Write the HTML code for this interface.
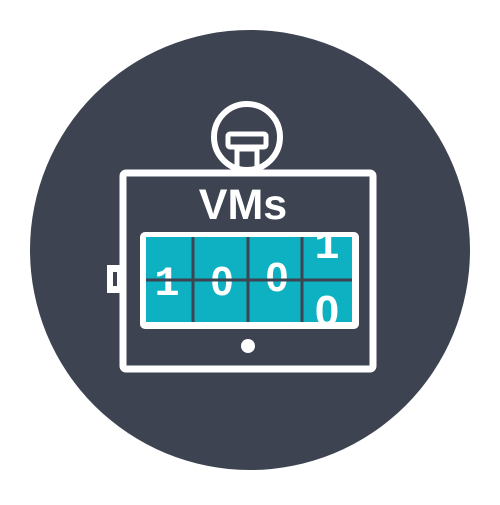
<!DOCTYPE html>
<html><head><style>html,body{margin:0;padding:0;background:#fff;}</style></head>
<body>
<svg width="500" height="500" viewBox="0 0 500 500" xmlns="http://www.w3.org/2000/svg">
<defs><clipPath id="c"><rect x="146" y="237" width="206" height="85"/></clipPath></defs>
<circle cx="250" cy="250" r="220" fill="#3d4350"/>
<circle cx="247" cy="137" r="33" fill="none" stroke="#fff" stroke-width="6"/>
<rect x="228" y="134" width="38" height="13" fill="none" stroke="#fff" stroke-width="5" rx="2"/>
<rect x="237" y="149" width="20" height="27" fill="none" stroke="#fff" stroke-width="5"/>
<rect x="107" y="265" width="15" height="28" fill="#fff"/>
<rect x="113" y="272" width="4" height="14" fill="#3d4350"/>
<rect x="123" y="173" width="250" height="196" rx="3" fill="#3d4350" stroke="#fff" stroke-width="7"/>
<text x="243" y="219" text-anchor="middle" font-family="Liberation Sans, sans-serif" font-weight="bold" font-size="43" fill="#fff">VMs</text>
<rect x="140" y="232" width="219" height="97" rx="5" fill="#fff"/>
<rect x="146" y="237" width="206" height="85" fill="#0eb1c1"/>
<g clip-path="url(#c)" font-weight="bold" fill="#fff" text-anchor="middle">
<text x="167" y="295" font-family="Liberation Mono, monospace" font-size="42">1</text>
<text x="327" y="258" font-family="Liberation Mono, monospace" font-size="42">1</text>
<g font-family="Liberation Sans, sans-serif" font-size="41">
<text x="222" y="295">0</text>
<text x="277" y="291">0</text>
<text x="327" y="326" font-size="44">0</text>
</g>
</g>
<g stroke="#3d4350" stroke-width="3">
<line x1="146" y1="280" x2="352" y2="280"/>
<line x1="193" y1="237" x2="193" y2="322"/>
<line x1="248" y1="237" x2="248" y2="322"/>
<line x1="302" y1="237" x2="302" y2="322"/>
</g>
<circle cx="248" cy="346" r="7" fill="#fff"/>
</svg>
</body></html>
